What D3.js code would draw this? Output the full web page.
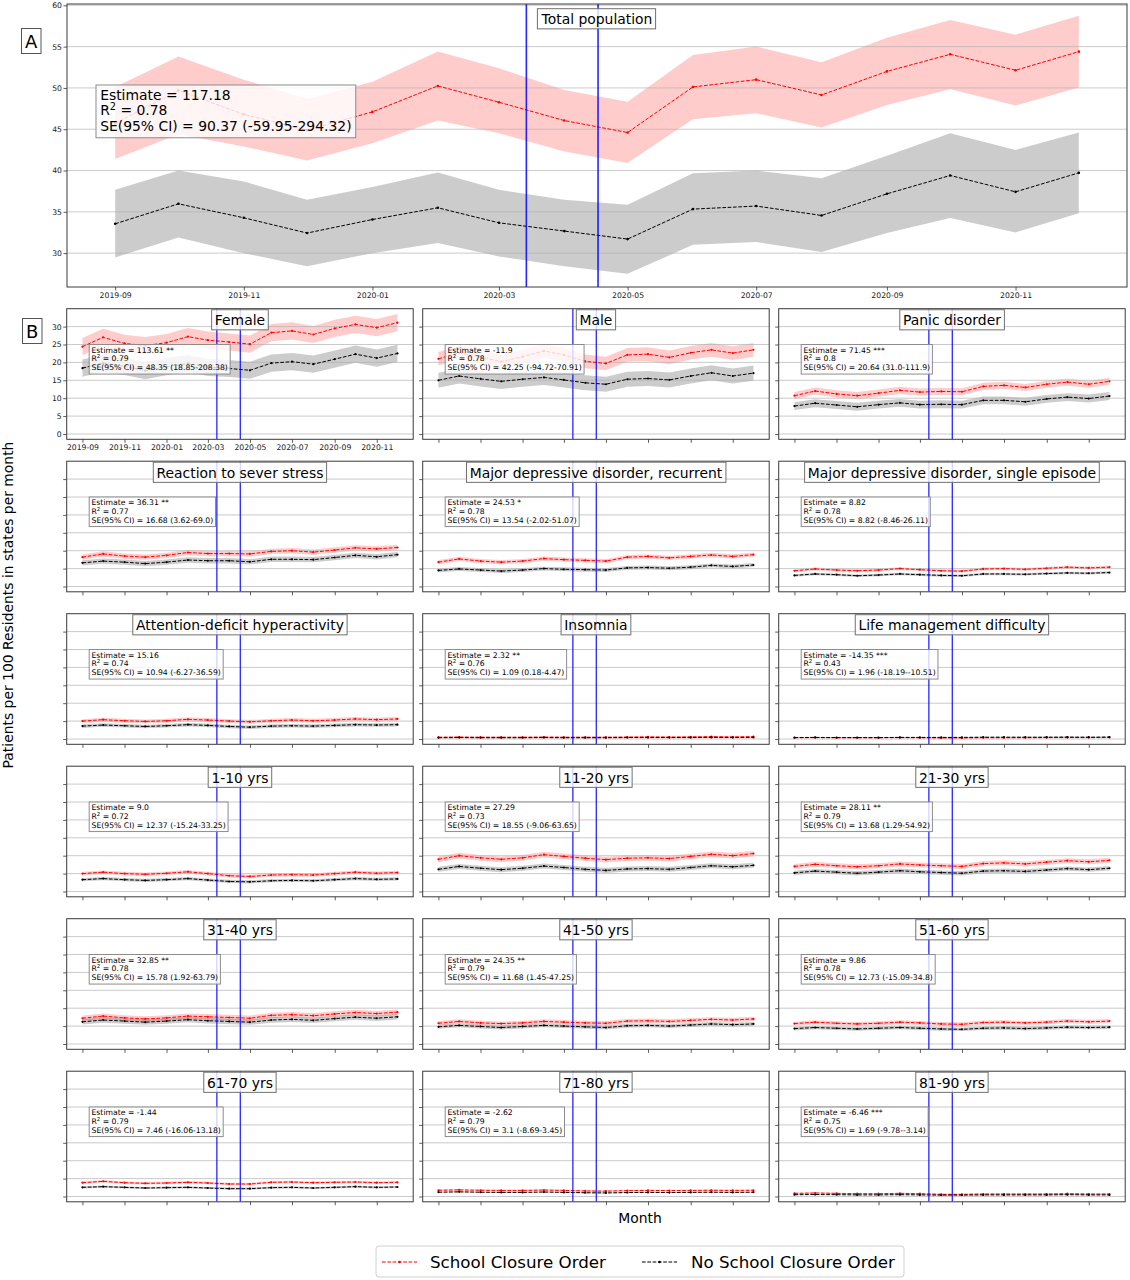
<!DOCTYPE html>
<html><head><meta charset="utf-8">
<script src="https://cdn.jsdelivr.net/npm/d3@7"></script>
<style>body{margin:0;background:#fff}svg{display:block}text{font-family:"DejaVu Sans",sans-serif}</style>
</head><body><svg id="c" width="1130" height="1280"></svg>
<script>
// ---------------- DATA ----------------
const months = ["2019-09","2019-10","2019-11","2019-12","2020-01","2020-02","2020-03","2020-04","2020-05","2020-06","2020-07","2020-08","2020-09","2020-10","2020-11","2020-12"];
const tickMonths = ["2019-09","2019-11","2020-01","2020-03","2020-05","2020-07","2020-09","2020-11"];
const closureOrderDates = ["2020-03-14","2020-04-17"];
const yTicksA = [30,35,40,45,50,55,60];
const yTicksB = [0,5,10,15,20,25,30];
const seriesNames = ["School Closure Order","No School Closure Order"];

// Panel A: total population
const totalClosure      = [45.7, 49.7, 46.8, 44.9, 47.1, 50.24, 48.27, 46.05, 44.6, 50.12, 51.0, 49.15, 52.0, 54.07, 52.14, 54.39];
const totalClosureLower = [41.4, 44.4, 42.9, 41.2, 43.3, 46.05, 44.52, 42.3, 40.9, 46.2, 46.94, 45.2, 47.94, 49.84, 47.86, 50.04];
const totalClosureUpper = [50.1, 53.8, 51.0, 48.67, 50.76, 54.4, 52.38, 49.76, 48.34, 53.99, 55.0, 53.1, 56.08, 58.22, 56.45, 58.74];
const totalNoClosure      = [33.55, 35.97, 34.28, 32.43, 34.07, 35.49, 33.67, 32.67, 31.7, 35.33, 35.7, 34.56, 37.18, 39.4, 37.42, 39.72];
const totalNoClosureLower = [29.48, 31.9, 30.0, 28.4, 30.0, 31.22, 29.6, 28.4, 27.5, 31.0, 31.34, 30.13, 32.43, 34.24, 32.5, 34.84];
const totalNoClosureUpper = [37.67, 40.0, 38.67, 36.46, 38.0, 39.76, 37.67, 36.46, 35.85, 39.68, 40.0, 39.08, 41.8, 44.52, 42.5, 44.6];
const totalAnnot = ["117.18", "0.78", "90.37 (-59.95-294.32)"];

// Panel B: subgroups
const subTitles = ["Female","Male","Panic disorder",
  "Reaction to sever stress","Major depressive disorder, recurrent","Major depressive disorder, single episode",
  "Attention-deficit hyperactivity","Insomnia","Life management difficulty",
  "1-10 yrs","11-20 yrs","21-30 yrs","31-40 yrs","41-50 yrs","51-60 yrs","61-70 yrs","71-80 yrs","81-90 yrs"];
const subEstimate = ["113.61 **","-11.9","71.45 ***","36.31 **","24.53 *","8.82","15.16","2.32 **","-14.35 ***",
  "9.0","27.29","28.11 **","32.85 **","24.35 **","9.86","-1.44","-2.62","-6.46 ***"];
const subR2 = ["0.79","0.78","0.8","0.77","0.78","0.78","0.74","0.76","0.43","0.72","0.73","0.79","0.78","0.79","0.78","0.79","0.79","0.75"];
const subSE = ["48.35 (18.85-208.38)","42.25 (-94.72-70.91)","20.64 (31.0-111.9)","16.68 (3.62-69.0)","13.54 (-2.02-51.07)",
  "8.82 (-8.46-26.11)","10.94 (-6.27-36.59)","1.09 (0.18-4.47)","1.96 (-18.19--10.51)","12.37 (-15.24-33.25)",
  "18.55 (-9.06-63.65)","13.68 (1.29-54.92)","15.78 (1.92-63.79)","11.68 (1.45-47.25)","12.73 (-15.09-34.8)",
  "7.46 (-16.06-13.18)","3.1 (-8.69-3.45)","1.69 (-9.78--3.14)"];
const subClosure = [
  [24.4,27.0,25.3,24.7,25.5,27.2,26.2,25.7,25.1,28.3,28.8,27.8,29.5,30.6,29.7,31.1],
  [21.0,22.7,21.5,20.2,21.6,23.2,22.1,20.3,19.7,22.1,22.3,21.4,22.7,23.5,22.6,23.5],
  [10.7,12.0,11.2,10.7,11.4,12.2,11.7,11.9,11.8,13.3,13.6,13.0,13.9,14.5,13.9,14.7],
  [8.2,9.1,8.5,8.2,8.7,9.5,9.2,9.2,9.1,9.8,10.0,9.6,10.2,10.8,10.5,10.9],
  [6.8,7.7,7.1,6.8,7.1,7.8,7.5,7.3,7.1,8.2,8.4,8.0,8.4,8.8,8.4,8.9],
  [4.4,4.9,4.6,4.4,4.6,5.0,4.7,4.4,4.3,4.9,5.0,4.8,5.1,5.4,5.2,5.4],
  [5.0,5.4,5.1,4.9,5.1,5.5,5.3,5.0,4.8,5.1,5.3,5.1,5.3,5.6,5.4,5.6],
  [0.5,0.55,0.5,0.5,0.5,0.55,0.5,0.5,0.5,0.55,0.6,0.55,0.6,0.65,0.6,0.65],
  [0.35,0.4,0.35,0.35,0.35,0.4,0.35,0.3,0.3,0.35,0.35,0.35,0.4,0.4,0.4,0.45],
  [5.0,5.4,5.0,4.8,5.1,5.5,5.0,4.4,4.2,4.6,4.7,4.6,5.0,5.4,5.1,5.3],
  [9.0,10.0,9.4,9.0,9.4,10.3,9.8,9.3,8.9,9.3,9.4,9.2,9.8,10.4,10.0,10.6],
  [7.0,7.6,7.2,6.9,7.2,7.7,7.4,7.2,7.0,7.8,8.0,7.7,8.2,8.6,8.3,8.7],
  [7.2,7.8,7.3,7.0,7.3,7.8,7.6,7.4,7.2,8.0,8.2,7.9,8.4,8.8,8.5,8.9],
  [5.8,6.3,5.9,5.7,5.9,6.3,6.1,5.9,5.8,6.4,6.5,6.3,6.6,6.9,6.7,7.0],
  [5.7,6.1,5.8,5.6,5.8,6.1,5.9,5.6,5.5,6.0,6.1,5.9,6.1,6.4,6.2,6.4],
  [3.86,4.24,3.86,3.68,3.77,3.96,3.77,3.49,3.49,3.96,4.05,3.86,3.96,4.05,3.86,3.96],
  [1.75,1.85,1.75,1.7,1.7,1.8,1.7,1.55,1.5,1.65,1.7,1.65,1.7,1.75,1.7,1.75],
  [0.88,0.98,0.88,0.79,0.79,0.88,0.79,0.6,0.6,0.7,0.7,0.7,0.7,0.79,0.7,0.7]
];
const subNoClosure = [
  [18.4,19.8,18.9,17.7,18.8,19.7,18.6,18.3,17.8,19.8,20.2,19.5,20.9,22.3,21.2,22.5],
  [15.0,16.2,15.4,14.7,15.3,15.8,15.1,14.3,13.9,15.3,15.5,15.1,16.2,17.1,16.2,17.0],
  [7.8,8.6,8.1,7.6,8.2,8.7,8.2,8.3,8.2,9.4,9.4,9.0,9.8,10.3,9.9,10.6],
  [6.6,7.1,6.8,6.4,6.8,7.4,7.2,7.2,6.9,7.6,7.6,7.5,8.1,8.7,8.3,8.9],
  [4.5,4.9,4.6,4.3,4.6,5.0,4.8,4.7,4.6,5.2,5.3,5.1,5.4,5.9,5.6,6.0],
  [3.1,3.5,3.3,3.0,3.2,3.5,3.3,3.1,3.0,3.5,3.5,3.4,3.6,3.8,3.7,3.9],
  [3.6,3.9,3.7,3.5,3.7,4.0,3.8,3.5,3.3,3.6,3.7,3.6,3.8,4.0,3.9,4.0],
  [0.35,0.4,0.35,0.35,0.35,0.4,0.35,0.35,0.35,0.4,0.4,0.4,0.4,0.45,0.4,0.45],
  [0.4,0.45,0.4,0.4,0.4,0.45,0.45,0.45,0.45,0.5,0.5,0.5,0.5,0.55,0.5,0.55],
  [3.3,3.6,3.3,3.1,3.3,3.6,3.2,2.8,2.7,3.0,3.1,3.0,3.3,3.6,3.4,3.5],
  [6.2,7.0,6.5,6.1,6.5,7.1,6.7,6.2,5.9,6.3,6.4,6.2,6.7,7.2,6.9,7.3],
  [5.2,5.7,5.4,5.1,5.4,5.8,5.5,5.3,5.1,5.7,5.8,5.6,6.0,6.4,6.1,6.5],
  [6.2,6.7,6.4,6.1,6.4,6.8,6.5,6.3,6.1,6.7,6.9,6.6,7.1,7.5,7.2,7.6],
  [4.8,5.2,4.9,4.6,4.9,5.2,5.0,4.8,4.6,5.1,5.2,5.0,5.3,5.6,5.4,5.6],
  [4.3,4.6,4.4,4.2,4.4,4.6,4.4,4.2,4.1,4.4,4.5,4.3,4.5,4.7,4.6,4.7],
  [2.56,2.75,2.56,2.37,2.47,2.56,2.37,2.19,2.19,2.47,2.56,2.37,2.56,2.75,2.56,2.65],
  [1.2,1.3,1.2,1.15,1.15,1.25,1.15,1.05,1.0,1.1,1.15,1.1,1.15,1.2,1.15,1.2],
  [0.5,0.55,0.5,0.45,0.45,0.5,0.45,0.4,0.4,0.45,0.45,0.45,0.45,0.5,0.45,0.45]
];
const subClosureHalfCI   = [2.4,1.9,1.0,0.75,0.6,0.4,0.55,0.1,0.1,0.5,0.8,0.7,0.75,0.6,0.55,0.35,0.2,0.15];
const subNoClosureHalfCI = [2.4,2.1,1.1,0.75,0.55,0.35,0.5,0.1,0.1,0.45,0.7,0.6,0.75,0.55,0.5,0.3,0.15,0.1];

// ---------------- DRAWING ----------------
const svg = d3.select("#c");
const FONT = '"DejaVu Sans", sans-serif';
const parse = d3.timeParse("%Y-%m");
const parseDay = d3.timeParse("%Y-%m-%d");
const dates = months.map(parse);
const tickDates = tickMonths.map(parse);
const vDates = closureOrderDates.map(parseDay);
const span = dates[dates.length-1] - dates[0];
const xDomain = [new Date(+dates[0] - 0.05*span), new Date(+dates[dates.length-1] + 0.05*span)];
const RED = "#ff0000", BLK = "#000000";

function addTextBox(g, x, y, lines, fs, lh, pad, opacity) {
  // lines: array of arrays of {t, sup}
  const tg = g.append("g");
  const txt = tg.append("text").attr("font-size", fs).attr("font-family", FONT).attr("fill", "#000");
  lines.forEach((ln, i) => {
    const base = y + pad + fs*0.76 + i*lh;
    const t = txt.append("tspan").attr("x", x + pad).attr("y", base);
    if (ln.sup) {
      t.text(ln.pre);
      txt.append("tspan").attr("font-size", fs*0.7).attr("dy", -fs*0.38).text(ln.sup);
      txt.append("tspan").attr("dy", fs*0.38).text(ln.post);
    } else {
      t.text(ln.t);
    }
  });
  const bb = txt.node().getBBox();
  const h = pad*2 + fs*0.98 + (lines.length-1)*lh;
  tg.insert("rect", "text").attr("x", x).attr("y", y).attr("width", bb.width + 2*pad).attr("height", h)
    .attr("fill", "#fff").attr("fill-opacity", opacity).attr("stroke", "#8c8c8c").attr("stroke-width", 1);
  return tg;
}

function panel(cfg) {
  const {left, top, width, height, yDomain, yTicks, labels, cl, clLo, clHi, no, noLo, noHi,
         title, titleDy, titleFs, annot, annotFs, annotLh, annotDx, annotDy, tickFs, markerR, blueW} = cfg;
  const x = d3.scaleTime().domain(xDomain).range([left, left + width]);
  const y = d3.scaleLinear().domain(yDomain).range([top + height, top]);
  const g = svg.append("g");
  const cid = "clip" + Math.round(left) + "_" + Math.round(top);
  g.append("clipPath").attr("id", cid).append("rect").attr("x", left).attr("y", top).attr("width", width).attr("height", height);
  const pg = g.append("g").attr("clip-path", `url(#${cid})`);

  const area = (lo, hi) => d3.area().x((d, i) => x(dates[i])).y0((d, i) => y(lo[i])).y1((d, i) => y(hi[i]));
  pg.append("path").datum(cl).attr("d", area(clLo, clHi)).attr("fill", RED).attr("fill-opacity", 0.2);
  pg.append("path").datum(no).attr("d", area(noLo, noHi)).attr("fill", BLK).attr("fill-opacity", 0.2);

  // grid
  pg.selectAll(".grid").data(yTicks).join("line").attr("class", "grid")
    .attr("x1", left).attr("x2", left + width).attr("y1", d => y(d)).attr("y2", d => y(d))
    .attr("stroke", "#b0b0b0").attr("stroke-width", 0.9).attr("stroke-opacity", 0.75);

  const line = d3.line().x((d, i) => x(dates[i])).y(d => y(d));
  [[cl, RED], [no, BLK]].forEach(([s, c]) => {
    pg.append("path").datum(s).attr("d", line).attr("fill", "none").attr("stroke", c)
      .attr("stroke-width", 1).attr("stroke-dasharray", "3.7,1.6");
    pg.selectAll(null).data(s).join("circle").attr("cx", (d, i) => x(dates[i])).attr("cy", d => y(d))
      .attr("r", markerR).attr("fill", c);
  });

  // closure order vertical lines
  pg.selectAll(".vl").data(vDates).join("line").attr("class", "vl")
    .attr("x1", d => x(d)).attr("x2", d => x(d)).attr("y1", top).attr("y2", top + height)
    .attr("stroke", "#0000ff").attr("stroke-opacity", 0.85).attr("stroke-width", blueW);

  // axes
  const xa = d3.axisBottom(x).tickValues(tickDates).tickSize(3.5).tickPadding(2)
    .tickFormat(labels ? d3.timeFormat("%Y-%m") : () => "");
  const ya = d3.axisLeft(y).tickValues(yTicks).tickSize(3.5).tickPadding(1.5)
    .tickFormat(labels ? d3.format("d") : () => "");
  const gx = g.append("g").attr("transform", `translate(0,${top + height})`).call(xa);
  const gy = g.append("g").attr("transform", `translate(${left},0)`).call(ya);
  [gx, gy].forEach(a => {
    a.select(".domain").remove();
    a.selectAll("line").attr("stroke", "#333").attr("stroke-width", 0.8);
    a.selectAll("text").attr("font-size", tickFs).attr("font-family", FONT).attr("fill", "#222");
  });
  g.append("rect").attr("x", left).attr("y", top).attr("width", width).attr("height", height)
    .attr("fill", "none").attr("stroke", "#3a3a3a").attr("stroke-width", 1);

  // annotation
  addTextBox(g, left + annotDx, top + annotDy, [
    {t: "Estimate = " + annot[0]},
    {sup: "2", pre: "R", post: " = " + annot[1]},
    {t: "SE(95% CI) = " + annot[2]}
  ], annotFs, annotLh, annotFs*0.3, 0.8);

  // title box
  const tg = g.append("g");
  const tt = tg.append("text").attr("x", left + width/2).attr("y", top + titleDy + 3 + titleFs*0.76 + 2)
    .attr("text-anchor", "middle").attr("font-size", titleFs).attr("font-family", FONT).text(title);
  const tb = tt.node().getBBox();
  tg.insert("rect", "text").attr("x", tb.x - 3.2).attr("y", top + titleDy).attr("width", tb.width + 6.4)
    .attr("height", titleFs*1.45).attr("fill", "#fff").attr("fill-opacity", 0.8)
    .attr("stroke", "#707070").attr("stroke-width", 1);
}

// Panel A
panel({left: 67, top: 4, width: 1060, height: 283, yDomain: [25.9, 60.16], yTicks: yTicksA, labels: true,
  cl: totalClosure, clLo: totalClosureLower, clHi: totalClosureUpper,
  no: totalNoClosure, noLo: totalNoClosureLower, noHi: totalNoClosureUpper,
  title: "Total population", titleDy: 4.7, titleFs: 13.9,
  annot: totalAnnot, annotFs: 13.9, annotLh: 15.4, annotDx: 29, annotDy: 81, tickFs: 7.7, markerR: 1.3, blueW: 1.6});

// Panel B
const colLeft = [66.7, 422.7, 778.7], colW = 346.5, rowTop0 = 308.7, rowPitch = 152.5, rowH = 130.6;
subTitles.forEach((t, k) => {
  const r = Math.floor(k / 3), c = k % 3;
  const cl = subClosure[k], no = subNoClosure[k];
  panel({left: colLeft[c], top: rowTop0 + r*rowPitch, width: colW, height: rowH, yDomain: [-1.48, 35.0],
    yTicks: yTicksB, labels: k === 0,
    cl: cl, clLo: cl.map(v => v - subClosureHalfCI[k]), clHi: cl.map(v => v + subClosureHalfCI[k]),
    no: no, noLo: no.map(v => v - subNoClosureHalfCI[k]), noHi: no.map(v => v + subNoClosureHalfCI[k]),
    title: t, titleDy: 1, titleFs: 13.9,
    annot: [subEstimate[k], subR2[k], subSE[k]], annotFs: 7.7, annotLh: 8.7, annotDx: 22.5, annotDy: 35.8,
    tickFs: 7.7, markerR: 1.1, blueW: 1.3});
});

// Panel letters
function letter(x, y, w, h, s) {
  svg.append("rect").attr("x", x).attr("y", y).attr("width", w).attr("height", h)
    .attr("fill", "#fff").attr("stroke", "#555").attr("stroke-width", 1);
  svg.append("text").attr("x", x + w/2).attr("y", y + h/2 + 6.5).attr("text-anchor", "middle")
    .attr("font-size", 18).attr("font-family", FONT).text(s);
}
letter(21.5, 28.5, 19.5, 25, "A");
letter(22.5, 318.5, 19.5, 25, "B");

// axis titles
svg.append("text").attr("transform", "translate(13,605) rotate(-90)").attr("text-anchor", "middle")
  .attr("font-size", 13.9).attr("font-family", FONT).text("Patients per 100 Residents in states per month");
svg.append("text").attr("x", 640).attr("y", 1223).attr("text-anchor", "middle")
  .attr("font-size", 13.9).attr("font-family", FONT).text("Month");

// legend
const lg = svg.append("g");
lg.append("rect").attr("x", 376).attr("y", 1246).attr("width", 528).attr("height", 31).attr("rx", 3)
  .attr("fill", "#fff").attr("stroke", "#d0d0d0").attr("stroke-width", 1);
const legItems = [{name: seriesNames[0], c: RED, x0: 382, tx: 430}, {name: seriesNames[1], c: BLK, x0: 642, tx: 691}];
legItems.forEach(it => {
  lg.append("line").attr("x1", it.x0).attr("x2", it.x0 + 35).attr("y1", 1262).attr("y2", 1262)
    .attr("stroke", it.c).attr("stroke-width", 1).attr("stroke-dasharray", "3.7,1.6");
  lg.append("circle").attr("cx", it.x0 + 17.5).attr("cy", 1262).attr("r", 1.3).attr("fill", it.c);
  lg.append("text").attr("x", it.tx).attr("y", 1268).attr("font-size", 16.7).attr("font-family", FONT).text(it.name);
});
</script></body></html>
